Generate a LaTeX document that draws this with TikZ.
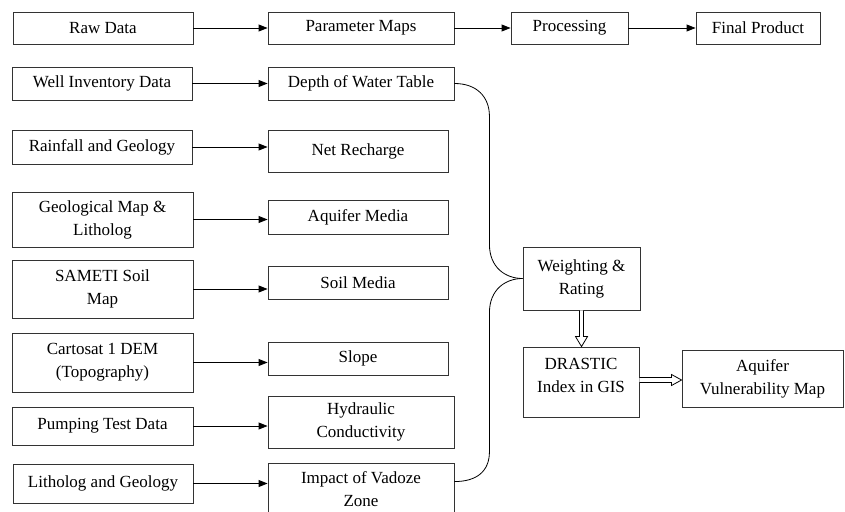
\documentclass[tikz,border=0pt]{standalone}
\usepackage{fontspec}
\setmainfont{Liberation Serif}
\usetikzlibrary{arrows.meta,calc}

\begin{document}
\begin{tikzpicture}[x=1pt,y=-1pt,
  box/.style={draw=black!80, line width=0.9pt, rectangle, inner sep=0pt,
    align=center, font=\fontsize{17}{23}\selectfont},
  flow/.style={draw=black, line width=0.9pt, -{Triangle[length=9pt,width=7pt]}},
  link/.style={draw=black, line width=0.8pt},
  hollow/.style={draw=black, line width=0.8pt, fill=white, line join=miter}]
\useasboundingbox (0,0) rectangle (845,511);
\clip (0,0) rectangle (845,511);

% header row
\node[box, minimum width=180pt, minimum height=32pt] (raw) at (103,28) {Raw Data};
\node[box, minimum width=186pt, minimum height=32pt] (par) at (361,28) {Parameter Maps};
\node[box, minimum width=117pt, minimum height=32pt] (pro) at (569.5,28) {Processing};
\node[box, minimum width=124pt, minimum height=32pt] (fin) at (758,28) {Final Product};

% raw data sources
\node[box, minimum width=180pt, minimum height=33pt] (well) at (102,83.5) {Well Inventory Data};
\node[box, minimum width=180pt, minimum height=34pt] (rain) at (102,147) {Rainfall and Geology};
\node[box, minimum width=181pt, minimum height=55pt] (geo) at (102.5,219.5) {Geological Map \&\\Litholog};
\node[box, minimum width=181pt, minimum height=58pt] (sam) at (102.5,289) {SAMETI Soil\\Map};
\node[box, minimum width=181pt, minimum height=59pt] (carto) at (102.5,362.5) {Cartosat 1 DEM\\(Topography)};
\node[box, minimum width=181pt, minimum height=38pt] (pump) at (102.5,426) {Pumping Test Data};
\node[box, minimum width=180pt, minimum height=39pt] (lith) at (103,483.5) {Litholog and Geology};

% parameter maps
\node[box, minimum width=186pt, minimum height=33pt] (dep) at (361,83.5) {Depth of Water Table};
\node[box, minimum width=180pt, minimum height=42pt] (rech) at (358,151) {Net Recharge};
\node[box, minimum width=180pt, minimum height=34pt] (aqm) at (358,217) {Aquifer Media};
\node[box, minimum width=180pt, minimum height=33pt] (soil) at (358,282.5) {Soil Media};
\node[box, minimum width=180pt, minimum height=33pt] (slope) at (358,358.5) {Slope};
\node[box, minimum width=186pt, minimum height=52pt] (hyd) at (361,422) {Hydraulic\\Conductivity};
\node[box, minimum width=186pt, minimum height=52pt] (imp) at (361,489) {Impact of Vadoze\\Zone};

% processing and product
\node[box, minimum width=117pt, minimum height=63pt] (wei) at (581.5,278.5) {Weighting \&\\Rating};
\node[box, minimum width=116pt, minimum height=70pt] (dra) at (581,382) {};
\node[box, draw=none] (dratxt) at ($(dra.center)+(0,-7)$) {DRASTIC\\Index in GIS};
\node[box, minimum width=161pt, minimum height=57pt] (vul) at (762.5,378.5) {Aquifer\\Vulnerability Map};

% header arrows
\draw[flow] (raw.east) -- (raw.east -| par.west);
\draw[flow] (par.east) -- (par.east -| pro.west);
\draw[flow] (pro.east) -- (pro.east -| fin.west);

% source to parameter arrows
\draw[flow] (well.east) -- (well.east -| dep.west);
\draw[flow] (rain.east) -- (rain.east -| rech.west);
\draw[flow] (geo.east) -- (geo.east -| aqm.west);
\draw[flow] (sam.east) -- (sam.east -| soil.west);
\draw[flow] (carto.east) -- (carto.east -| slope.west);
\draw[flow] (pump.east) -- (pump.east -| hyd.west);
\draw[flow] (lith.east) -- (lith.east -| imp.west);

% brace joining the parameter maps into the weighting step
\coordinate (bend) at ($(dep.east)+(35,0)$);
\coordinate (impout) at ($(imp.north east)+(0,19)$);
\draw[link] (dep.east) .. controls ($(dep.east)+(22,0)$) and ($(bend)+(0,13)$) .. ($(bend)+(0,33)$)
  -- ($(bend |- wei.west)+(0,-34)$)
  .. controls ($(bend |- wei.west)+(0,-11)$) and ($(wei.west)+(-17,0)$) .. (wei.west);
\draw[link] (wei.west) .. controls ($(wei.west)+(-17,0)$) and ($(bend |- wei.west)+(0,11)$) .. ($(bend |- wei.west)+(0,34)$)
  -- ($(bend |- impout)+(0,-30)$)
  .. controls ($(bend |- impout)+(0,-10)$) and ($(impout)+(22,0)$) .. (impout);

% hollow block arrows
\coordinate (vt) at (wei.south);
\coordinate (vb) at (wei.south |- dra.north);
\draw[hollow] ($(vt)+(-2,0)$) -- ($(vb)+(-2,-10)$) -- ($(vb)+(-6,-10)$) -- (vb)
  -- ($(vb)+(6,-10)$) -- ($(vb)+(2,-10)$) -- ($(vt)+(2,0)$);
\coordinate (hl) at ($(dra.east)+(0,-2)$);
\coordinate (hr) at (hl -| vul.west);
\draw[hollow] ($(hl)+(0,-2.5)$) -- ($(hr)+(-10,-2.5)$) -- ($(hr)+(-10,-5.5)$) -- (hr)
  -- ($(hr)+(-10,5.5)$) -- ($(hr)+(-10,2.5)$) -- ($(hl)+(0,2.5)$);
\end{tikzpicture}
\end{document}
